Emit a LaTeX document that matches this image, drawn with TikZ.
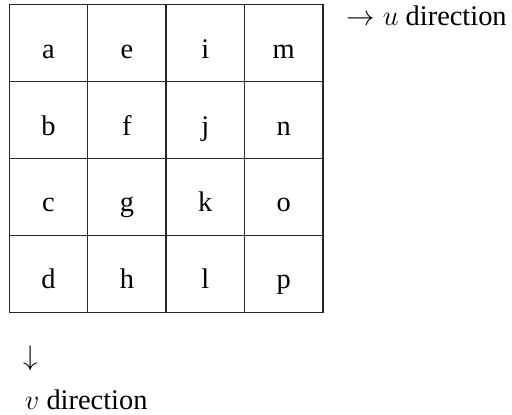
\documentclass[tikz,border=0pt]{standalone}
\usepackage{fontspec}
\setmainfont{Liberation Serif}
\begin{document}
\begin{tikzpicture}[x=0.4225pt,y=-0.4225pt,
  gridline/.style={draw=black!85, line width=0.55pt},
  letter/.style={anchor=base, inner sep=0pt, font=\fontsize{12}{14}\selectfont},
  dirlabel/.style={anchor=base west, inner sep=0pt, font=\fontsize{12}{14}\selectfont}]
\useasboundingbox (0,0) rectangle (512,415);
% grid
\foreach \c in {0,...,3}{
  \foreach \r in {0,...,3}{
    \draw[gridline] ({9.3+78.4*\c},{4.7+76.9*\r}) rectangle ({9.3+78.4*(\c+1)},{4.7+76.9*(\r+1)});
  }
}
% letters (column-major)
\foreach \l [count=\i from 0] in {a,b,c,d,e,f,g,h,i,j,k,l,m,n,o,p}{
  \pgfmathtruncatemacro{\col}{int(\i/4)}
  \pgfmathtruncatemacro{\row}{mod(\i,4)}
  \node[letter] (\l) at ({9.3+78.4*(\col+0.5)},{4.7+76.9*(\row+0.5)+15}) {\l};
}
\node[dirlabel] (udir) at (346,26) {$\rightarrow u$ direction};
\node[dirlabel] (varrow) at (23,365.5) {$\downarrow$};
\node[dirlabel] (vdir) at (24.5,409) {$v$ direction};
\end{tikzpicture}
\end{document}
